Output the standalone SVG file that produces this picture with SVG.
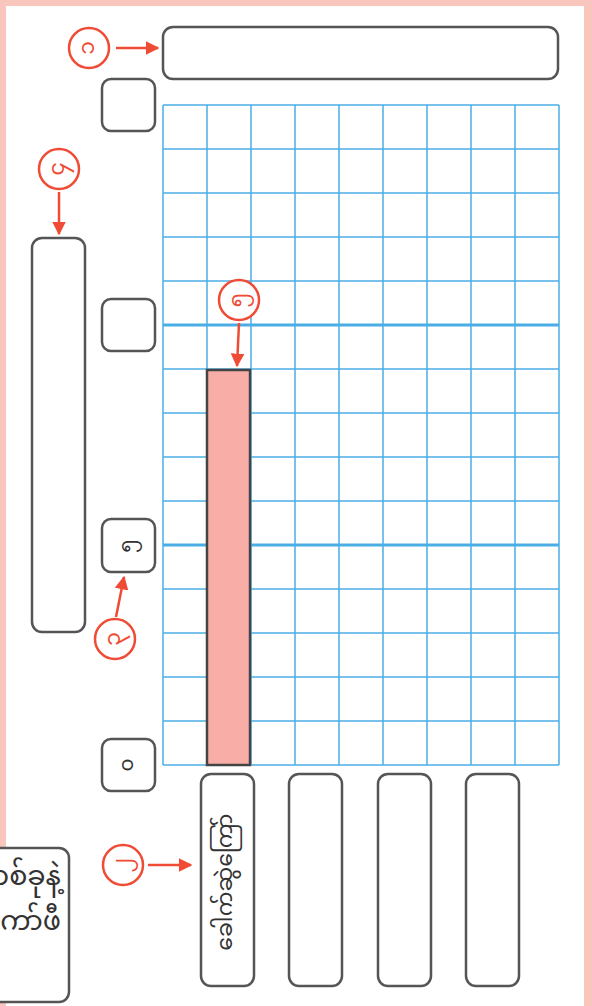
<svg xmlns="http://www.w3.org/2000/svg" width="592" height="1006" viewBox="0 0 592 1006">
<style>
.box{fill:#fff;stroke:#555;stroke-width:2.5}
.grid line{stroke:#4aaee6;stroke-width:1.5}
.grid line.thick{stroke-width:3}
.callout{fill:#fff;stroke:#ef4b35;stroke-width:2.5}
.ctext{fill:#ef4b35;font-family:"Noto Sans Myanmar","Padauk","Myanmar Text","Noto Sans",sans-serif;font-size:22px;text-anchor:middle;dominant-baseline:central}
.conn{stroke:#ef4b35;stroke-width:2.5;fill:none;marker-end:url(#ah)}
.mm{font-family:"Noto Sans Myanmar","Padauk","Myanmar Text","Noto Sans",sans-serif;fill:#333}
</style>
<defs>
<marker id="ah" viewBox="0 0 10 10" refX="9" refY="5" markerWidth="5.5" markerHeight="5.5" orient="auto"><path d="M0,0 L10,5 L0,10 z" fill="#ef4b35"/></marker>
</defs>
<rect x="0" y="0" width="592" height="1006" fill="#f9c6bd"/>
<rect x="6" y="6" width="578" height="1000" fill="#fff"/>

<g id="grid" class="grid">
<line x1="163" y1="105" x2="163" y2="765"/><line x1="207" y1="105" x2="207" y2="765"/><line x1="251" y1="105" x2="251" y2="765"/><line x1="295" y1="105" x2="295" y2="765"/><line x1="339" y1="105" x2="339" y2="765"/><line x1="383" y1="105" x2="383" y2="765"/><line x1="427" y1="105" x2="427" y2="765"/><line x1="471" y1="105" x2="471" y2="765"/><line x1="515" y1="105" x2="515" y2="765"/><line x1="559" y1="105" x2="559" y2="765"/>
<line x1="163" y1="105" x2="559" y2="105"/><line x1="163" y1="149" x2="559" y2="149"/><line x1="163" y1="193" x2="559" y2="193"/><line x1="163" y1="237" x2="559" y2="237"/><line x1="163" y1="281" x2="559" y2="281"/><line class="thick" x1="163" y1="325" x2="559" y2="325"/><line x1="163" y1="369" x2="559" y2="369"/><line x1="163" y1="413" x2="559" y2="413"/><line x1="163" y1="457" x2="559" y2="457"/><line x1="163" y1="501" x2="559" y2="501"/><line class="thick" x1="163" y1="545" x2="559" y2="545"/><line x1="163" y1="589" x2="559" y2="589"/><line x1="163" y1="633" x2="559" y2="633"/><line x1="163" y1="677" x2="559" y2="677"/><line x1="163" y1="721" x2="559" y2="721"/><line x1="163" y1="765" x2="559" y2="765"/>
</g>

<g id="bar"><rect x="207" y="370" width="43" height="395" fill="#f8aea6" stroke="#444" stroke-width="2.5"/></g>

<g id="title"><rect class="box" x="163" y="27" width="395" height="52" rx="10"/></g>

<g id="axis-title"><rect class="box" x="32" y="238" width="53" height="394" rx="10"/></g>

<g id="tick-15"><rect class="box" x="102" y="79" width="53" height="52" rx="9"/></g>
<g id="tick-10"><rect class="box" x="102" y="299" width="53" height="52" rx="9"/></g>
<g id="tick-5"><rect class="box" x="102" y="519" width="53" height="53" rx="9"/><text class="mm" font-size="20" text-anchor="middle" dominant-baseline="central" transform="translate(128.5,546) rotate(-90)">၅</text></g>
<g id="tick-0"><rect class="box" x="102" y="739" width="53" height="52" rx="9"/><text class="mm" font-size="20" text-anchor="middle" dominant-baseline="central" transform="translate(128.5,765) rotate(-90)">၀</text></g>

<g id="cat-1"><rect class="box" x="201" y="774" width="53" height="212" rx="10"/><text class="mm" font-size="22" text-anchor="middle" dominant-baseline="central" transform="translate(227,882) rotate(-90)">ခေါက်ဆွဲကြော်</text></g>
<g id="cat-2"><rect class="box" x="289" y="774" width="53" height="212" rx="10"/></g>
<g id="cat-3"><rect class="box" x="378" y="774" width="53" height="212" rx="10"/></g>
<g id="cat-4"><rect class="box" x="466" y="774" width="53" height="212" rx="10"/></g>

<g id="note"><rect class="box" x="-100" y="848" width="169" height="154" rx="10"/><text class="mm" font-size="27" text-anchor="end" x="61" y="885">တစ်ခုနဲ့</text><text class="mm" font-size="27" text-anchor="end" x="61" y="930">ကော်ဖီ</text></g>

<g id="callouts">
<g id="c1"><circle class="callout" cx="89" cy="48" r="20"/><text class="ctext" transform="translate(89,48) rotate(-90)">၁</text></g>
<g id="c2"><circle class="callout" cx="123" cy="865" r="20"/><text class="ctext" transform="translate(123,865) rotate(-90)">၂</text></g>
<g id="c3"><circle class="callout" cx="115" cy="639" r="20"/><text class="ctext" transform="translate(115,639) rotate(-90)">၃</text></g>
<g id="c4"><circle class="callout" cx="59" cy="169" r="20"/><text class="ctext" transform="translate(59,169) rotate(-90)">၄</text></g>
<g id="c5"><circle class="callout" cx="239" cy="300" r="20"/><text class="ctext" transform="translate(239,300) rotate(-90)">၅</text></g>
</g>

<g id="connectors">
<line class="conn" x1="116" y1="48" x2="158" y2="48"/>
<line class="conn" x1="59" y1="192" x2="59" y2="234"/>
<line class="conn" x1="239" y1="323" x2="237" y2="366"/>
<line class="conn" x1="116" y1="617" x2="124" y2="577"/>
<line class="conn" x1="148" y1="865" x2="191" y2="865"/>
</g>
</svg>
